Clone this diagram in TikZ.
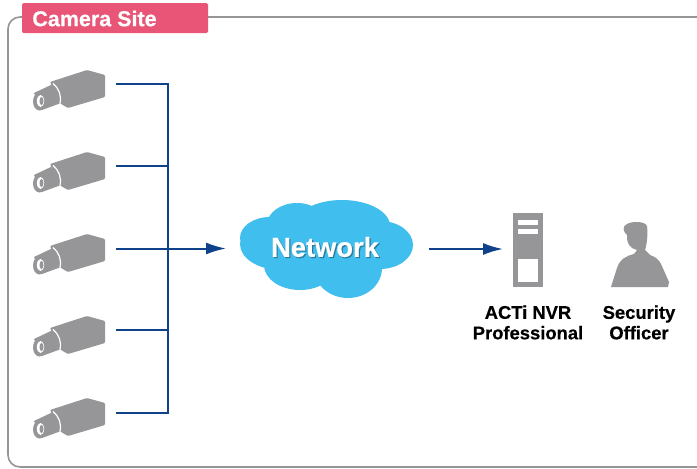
\documentclass[tikz,border=0pt]{standalone}
\usepackage{fontspec}
\setmainfont{Liberation Sans}[BoldFeatures={FakeBold=0.5}]
\usetikzlibrary{arrows.meta}
\definecolor{framegray}{RGB}{150,150,150}
\definecolor{devgray}{RGB}{150,150,152}
\definecolor{linkblue}{RGB}{16,66,140}
\definecolor{tagpink}{RGB}{232,85,118}
\definecolor{cloudblue}{RGB}{64,190,238}
\tikzset{
  x=1pt,y=-1pt,
  framebox/.style={draw=framegray,line width=1.6pt,rounded corners=12pt},
  link/.style={draw=linkblue,line width=2pt},
  linkarrow/.style={link,-{Latex[length=20pt,width=12pt]}},
  lbl/.style={font=\fontsize{18.4}{20.5}\selectfont\bfseries,align=center,text=black,inner sep=0pt},
  camera/.pic={
    \fill[devgray,rounded corners=1pt] (16,12) -- (53,0) -- (71,5) -- (71,27) -- (34,38) -- (27,34) -- cycle;
    \fill[devgray] (0,23) -- (19,14) -- (27,33) -- (8,40) -- cycle;
    \fill[devgray] (5.5,31.5) ellipse[x radius=6.5,y radius=9];
    \draw[white,line width=1.2pt] (19,13.5) to[bend left=30] (26,33.5);
    \fill[white] (6.5,31) ellipse[x radius=3.6,y radius=6];
    \fill[devgray] (7.5,31) ellipse[x radius=2,y radius=4];
  }
}
\begin{document}
\begin{tikzpicture}
\useasboundingbox (0,0) rectangle (697,469);
\fill[white] (0,0) rectangle (697,469);
% frame
\draw[framebox] (697,17) -- (8,17) -- (8,467) -- (697,467);
% tag
\node[fill=tagpink,rounded corners=1.5pt,minimum width=186pt,minimum height=30pt,inner sep=0pt] (tag) at (115,18) {};
\node[font=\fontsize{21.5}{24}\selectfont\bfseries,text=white,inner sep=0pt] (tagtext) at (94.5,18.5) {Camera Site};
% cameras
\foreach \i/\y in {1/70,2/152,3/234,4/316,5/398}{
  \pic at (34,\y) {camera};
}
\coordinate (c1) at (116,84);
\coordinate (c2) at (116,165.5);
\coordinate (c3) at (116,248.5);
\coordinate (c4) at (116,330);
\coordinate (c5) at (116,412.5);
\coordinate (j1) at (167.5,84);
\coordinate (j2) at (167.5,165.5);
\coordinate (j4) at (167.5,330);
\coordinate (j5) at (167.5,412.5);
\coordinate (cloudin) at (226,248.5);
\draw[link] (c1) -- (j1) -- (j5) -- (c5);
\draw[link] (c2) -- (j2);
\draw[link] (c4) -- (j4);
\draw[linkarrow] (c3) -- (cloudin);
% cloud
\fill[cloudblue]
  (281,244) ellipse[x radius=41,y radius=26]
  (270,238) ellipse[x radius=30,y radius=21]
  (297,225) ellipse[x radius=30,y radius=22]
  (342,226) ellipse[x radius=48,y radius=26]
  (380,245) ellipse[x radius=33,y radius=24]
  (348,268) ellipse[x radius=34,y radius=30]
  (300,265) ellipse[x radius=36,y radius=25];
\node[font=\fontsize{27.3}{28}\selectfont\bfseries,text=black!35!cloudblue,inner sep=0pt] at (326.2,248.2) {Network};
\node[font=\fontsize{27.3}{28}\selectfont\bfseries,text=white,inner sep=0pt] (net) at (325,247) {Network};
% server
\fill[devgray] (513,213) rectangle (543,287);
\fill[white] (518,220) rectangle (538,225);
\fill[white] (518,229) rectangle (538,234);
\fill[white] (518,259) rectangle (538,282);
\coordinate (nvrin) at (503,249);
\coordinate (cloudout) at (429,249);
\draw[linkarrow] (cloudout) -- (nvrin);
% officer
\fill[devgray]
  (611,287) -- (617,268) .. controls (620,259) and (626,256) .. (634,254)
  -- (637,250) -- (632,248) .. controls (627,244) and (627,240) .. (627,235)
  .. controls (623,232) and (622,226) .. (627,224)
  .. controls (632,221) and (645,221) .. (647,226)
  .. controls (648,234) and (647,244) .. (645,250)
  -- (650,255) .. controls (656,257) and (659,260) .. (661,264)
  -- (669,282) -- (668,287) -- cycle;
% labels
\node[lbl] (nvr) at (528,322.5) {ACTi NVR\\Professional};
\node[lbl] (off) at (639,322.5) {Security\\Officer};
\end{tikzpicture}
\end{document}
